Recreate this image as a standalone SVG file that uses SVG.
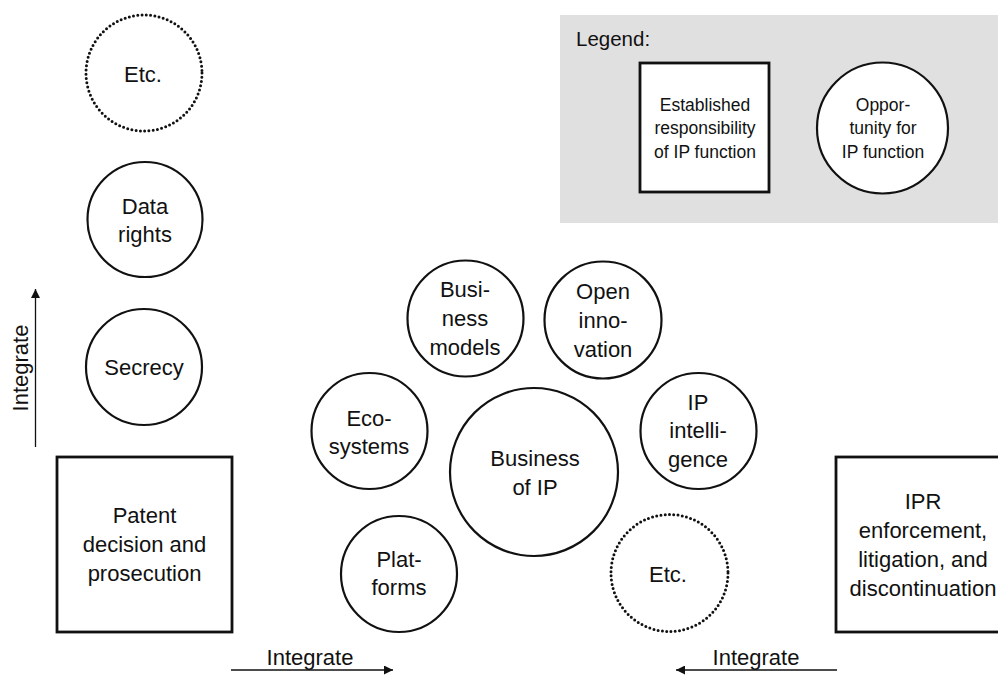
<svg xmlns="http://www.w3.org/2000/svg" width="998" height="675" viewBox="0 0 998 675">
<style>
text{font-family:"Liberation Sans",Arial,sans-serif;font-size:22px;fill:#111;text-anchor:middle}
.lg{font-size:17.5px}
.c{fill:#fff;stroke:#111;stroke-width:2.2}
.d{fill:#fff;stroke:#111;stroke-width:3;stroke-dasharray:0 4.3;stroke-linecap:round}
.b{fill:#fff;stroke:#111;stroke-width:2.8}
.a{stroke:#111;stroke-width:1.3;fill:none}
</style>
<defs>
<marker id="ah" viewBox="0 0 10 10" refX="10" refY="5" markerWidth="10" markerHeight="9" markerUnits="userSpaceOnUse" orient="auto">
<path d="M0,0 L10,5 L0,10 Z" fill="#111"/>
</marker>
</defs>
<g id="legend">
<rect x="560" y="15" width="440" height="208" fill="#e0e0e0"/>
<text x="576" y="46" style="text-anchor:start;font-size:20.5px">Legend:</text>
<rect class="b" x="640" y="63" width="129" height="129"/>
<text class="lg" x="705" y="111">Established</text>
<text class="lg" x="705" y="134">responsibility</text>
<text class="lg" x="705" y="158">of IP function</text>
<circle class="c" cx="882.5" cy="128" r="65.5"/>
<text class="lg" x="883" y="111">Oppor-</text>
<text class="lg" x="883" y="134">tunity for</text>
<text class="lg" x="883" y="158">IP function</text>
</g>
<g id="etc-top"><circle class="d" cx="144" cy="73" r="58"/><text x="143" y="82">Etc.</text></g>
<g id="data-rights"><circle class="c" cx="145" cy="219.5" r="57.5"/><text x="145" y="214">Data</text><text x="145" y="242">rights</text></g>
<g id="secrecy"><circle class="c" cx="144" cy="367" r="58"/><text x="144" y="375">Secrecy</text></g>
<g id="patent"><rect class="b" x="57" y="457" width="175" height="175"/><text x="144.5" y="523">Patent</text><text x="144.5" y="552">decision and</text><text x="144.5" y="581">prosecution</text></g>
<g id="ipr"><rect class="b" x="836" y="457" width="175" height="175"/><text x="923" y="509">IPR</text><text x="923" y="538">enforcement,</text><text x="923" y="567">litigation, and</text><text x="923" y="596">discontinuation</text></g>
<g id="business-models"><circle class="c" cx="465.5" cy="318.5" r="58"/><text x="465" y="297">Busi-</text><text x="465" y="326">ness</text><text x="465" y="355">models</text></g>
<g id="open-innovation"><circle class="c" cx="603" cy="320" r="58.5"/><text x="603" y="299">Open</text><text x="603" y="328">inno-</text><text x="603" y="357">vation</text></g>
<g id="ecosystems"><circle class="c" cx="369.5" cy="431" r="58"/><text x="369" y="426">Eco-</text><text x="369" y="454">systems</text></g>
<g id="business-of-ip"><circle class="c" cx="534" cy="472" r="84"/><text x="535" y="466">Business</text><text x="535" y="495">of IP</text></g>
<g id="ip-intelligence"><circle class="c" cx="698.5" cy="431" r="58"/><text x="698" y="410">IP</text><text x="698" y="438">intelli-</text><text x="698" y="467">gence</text></g>
<g id="platforms"><circle class="c" cx="399" cy="574" r="58"/><text x="399" y="567">Plat-</text><text x="399" y="595">forms</text></g>
<g id="etc-bottom"><circle class="d" cx="669.5" cy="573" r="58.5"/><text x="668" y="582">Etc.</text></g>
<g id="connectors">
<line class="a" x1="35.5" y1="447" x2="35.5" y2="289" marker-end="url(#ah)"/>
<text x="0" y="0" transform="translate(28,368) rotate(-90)">Integrate</text>
<line class="a" x1="231" y1="670" x2="393" y2="670" marker-end="url(#ah)"/>
<text x="310" y="665">Integrate</text>
<line class="a" x1="837" y1="670" x2="676" y2="670" marker-end="url(#ah)"/>
<text x="756" y="665">Integrate</text>
</g>
</svg>
